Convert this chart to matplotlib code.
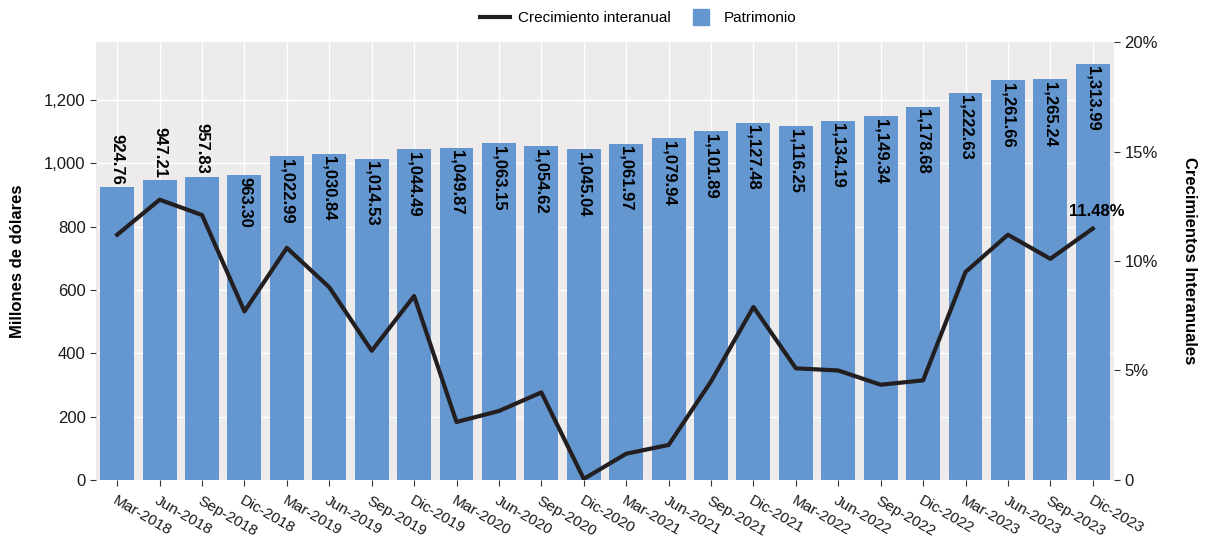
import numpy as np
import matplotlib.pyplot as plt
from matplotlib.lines import Line2D

plt.rcParams['font.family'] = ['Liberation Sans', 'DejaVu Sans']

periodos = ['Mar-2018', 'Jun-2018', 'Sep-2018', 'Dic-2018', 'Mar-2019', 'Jun-2019',
            'Sep-2019', 'Dic-2019', 'Mar-2020', 'Jun-2020', 'Sep-2020', 'Dic-2020',
            'Mar-2021', 'Jun-2021', 'Sep-2021', 'Dic-2021', 'Mar-2022', 'Jun-2022',
            'Sep-2022', 'Dic-2022', 'Mar-2023', 'Jun-2023', 'Sep-2023', 'Dic-2023']
patrimonio = [924.76, 947.21, 957.83, 963.30, 1022.99, 1030.84, 1014.53, 1044.49,
              1049.87, 1063.15, 1054.62, 1045.04, 1061.97, 1079.94, 1101.89, 1127.48,
              1116.25, 1134.19, 1149.34, 1178.68, 1222.63, 1261.66, 1265.24, 1313.99]
crecimiento = [11.2, 12.8, 12.1, 7.7, 10.6, 8.8, 5.9, 8.4, 2.65, 3.15, 4.0, 0.05,
               1.2, 1.6, 4.5, 7.9, 5.1, 5.0, 4.35, 4.55, 9.5, 11.2, 10.1, 11.48]

bar_color = '#6497D0'
bg = '#EDECEA'

fig = plt.figure(figsize=(12.09, 5.42), dpi=100)
ax = fig.add_axes([0.0794, 0.1144, 0.8420, 0.8081])
ax.set_facecolor(bg)
x = np.arange(len(periodos))

ax.bar(x, patrimonio, width=0.8, color=bar_color, zorder=2)
ax.set_ylim(0, 1383)
ax.set_xlim(-0.5, len(periodos) - 0.5)
ax.set_yticks(range(0, 1201, 200))
ax.set_yticklabels([f'{v:,}' for v in range(0, 1201, 200)])
ax.grid(True, color='white', linewidth=1, zorder=0)
ax.set_axisbelow(True)
for s in ax.spines.values():
    s.set_visible(False)
ax.set_xticks(x)
ax.set_xticklabels(periodos, rotation=-30, ha='left', rotation_mode='anchor')
ax.tick_params(axis='both', colors='#333333', labelsize=12, length=4, labelcolor='#1a1a1a')
ax.tick_params(axis='x', pad=6, labelsize=11)
ax.set_ylabel('Millones de dólares', fontsize=12, fontweight='bold', labelpad=14)

for i, v in enumerate(patrimonio):
    if i < 3:
        ax.text(i, v + 8, f'{v:,.2f}', rotation=270, ha='center', va='bottom',
                fontsize=12, fontweight='bold', zorder=5)
    else:
        ax.text(i, v - 8, f'{v:,.2f}', rotation=270, ha='center', va='top',
                fontsize=12, fontweight='bold', zorder=5)

ax2 = ax.twinx()
ax2.plot(x, crecimiento, color='#231F20', linewidth=3, zorder=4)
ax2.set_ylim(0, 20)
ax2.set_yticks([0, 5, 10, 15, 20])
ax2.set_yticklabels(['0', '5%', '10%', '15%', '20%'])
for s in ax2.spines.values():
    s.set_visible(False)
ax2.tick_params(axis='y', colors='#333333', labelsize=12, length=4, labelcolor='#1a1a1a')
ax2.set_ylabel('Crecimientos Interanuales', fontsize=12, fontweight='bold',
               rotation=270, labelpad=28)
ax2.text(x[-1] + 0.1, crecimiento[-1] + 0.45, f'{crecimiento[-1]:.2f}%', ha='center',
         va='bottom', fontsize=12, fontweight='bold')

handles = [Line2D([0], [0], color='#231F20', linewidth=3),
           Line2D([0], [0], color=bar_color, marker='s', markersize=12, linestyle='none')]
fig.legend(handles, ['Crecimiento interanual', 'Patrimonio'], loc='upper center',
           bbox_to_anchor=(0.528, 1.005), ncol=2, frameon=False, fontsize=11,
           handlelength=2.0, columnspacing=1.0, handletextpad=0.5)

fig.savefig('out.png', dpi=100)
